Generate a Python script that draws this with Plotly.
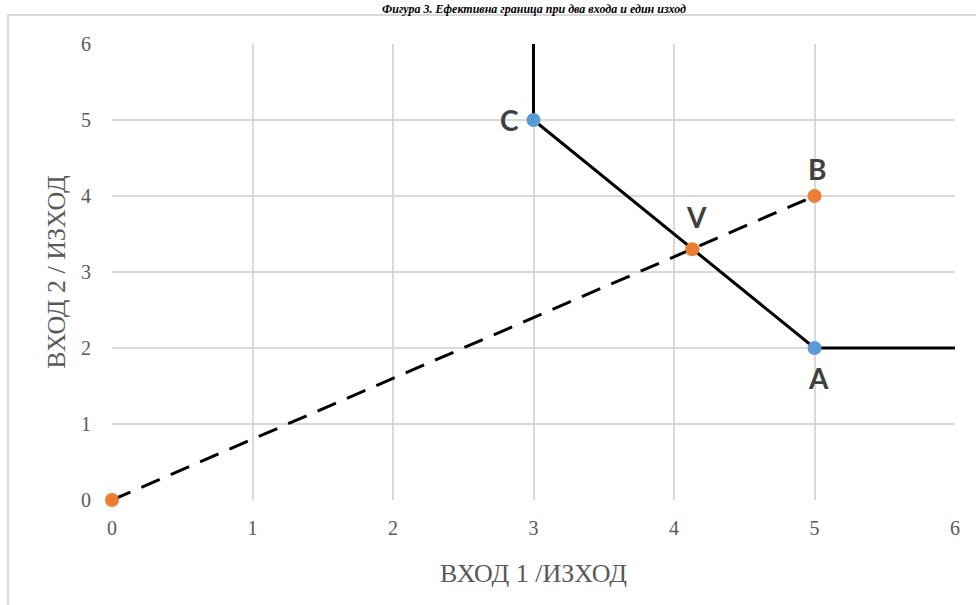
import plotly.graph_objects as go

# Frontier (solid)
frontier_x = [3, 3, 5, 6]
frontier_y = [6, 5, 2, 2]
# Ray from origin to B (dashed)
ray_x = [0, 5]
ray_y = [0, 4]
# Efficient points (blue)
eff_names = ["C", "A"]
eff_x = [3, 5]
eff_y = [5, 2]
# Other points (orange)
oth_names = ["", "V", "B"]
oth_x = [0, 4.13, 5]
oth_y = [0, 3.3, 4]

x_ticks = [0, 1, 2, 3, 4, 5, 6]
y_ticks = [0, 1, 2, 3, 4, 5, 6]

title_text = "Фигура 3. Ефективна граница при два входа и един изход"
x_title = "ВХОД 1 /ИЗХОД"
y_title = "ВХОД 2 / ИЗХОД"

fig = go.Figure()
fig.add_trace(go.Scatter(x=frontier_x, y=frontier_y, mode="lines",
                         line=dict(color="black", width=3), hoverinfo="skip", cliponaxis=False))
fig.add_trace(go.Scatter(x=ray_x, y=ray_y, mode="lines",
                         line=dict(color="black", width=3, dash="20px,12px"), hoverinfo="skip", cliponaxis=False))
fig.add_trace(go.Scatter(x=eff_x, y=eff_y, mode="markers",
                         marker=dict(color="#5b9bd5", size=14), cliponaxis=False))
fig.add_trace(go.Scatter(x=oth_x, y=oth_y, mode="markers",
                         marker=dict(color="#ed7d31", size=14), cliponaxis=False))

label_font = dict(family="Lato", size=28, color="#404040")
offsets = {"C": (-24, 0), "A": (4, 30), "V": (4, -32), "B": (2, -27)}
for n, x, y in list(zip(eff_names, eff_x, eff_y)) + list(zip(oth_names, oth_x, oth_y)):
    if not n:
        continue
    ax, ay = offsets[n]
    fig.add_annotation(x=x, y=y, text="<b>%s</b>" % n, showarrow=False,
                       xshift=ax, yshift=-ay, font=label_font)

# title
fig.add_annotation(x=0.5, xref="paper", y=(500 - 0) / 456, yref="paper",
                   text="<b><i>%s</i></b>" % title_text, showarrow=False,
                   yanchor="top", font=dict(family="Liberation Serif", size=12, color="black"))

# outer frame
fig.add_shape(type="rect", xref="paper", yref="paper",
              x0=(8 - 112) / 843, x1=(990 - 112) / 843,
              y0=(500 - 640) / 456, y1=(500 - 15) / 456,
              line=dict(color="#d9d9d9", width=2), layer="below")

tick_font = dict(family="Liberation Serif", size=20, color="#595959")
fig.update_layout(
    width=976, height=605,
    margin=dict(l=112, r=21, t=44, b=105),
    paper_bgcolor="white", plot_bgcolor="white",
    showlegend=False,
    xaxis=dict(range=[0, 6], tickvals=x_ticks, showgrid=True, gridcolor="#d9d9d9", gridwidth=1.5,
               zeroline=False, showline=False, tickfont=tick_font, ticks="", ticklabelstandoff=14,
               title=dict(text=x_title, font=dict(family="Liberation Serif", size=26, color="#595959"), standoff=25)),
    yaxis=dict(range=[0, 6], tickvals=y_ticks, showgrid=True, gridcolor="#d9d9d9", gridwidth=1.5,
               zeroline=False, showline=False, tickfont=tick_font, ticks="", ticklabelstandoff=20,
               title=dict(text=y_title, font=dict(family="Liberation Serif", size=26, color="#595959"), standoff=7)),
)
fig.write_html("out.html", config={"displayModeBar": False},
               post_script="document.body.style.margin='0';")
